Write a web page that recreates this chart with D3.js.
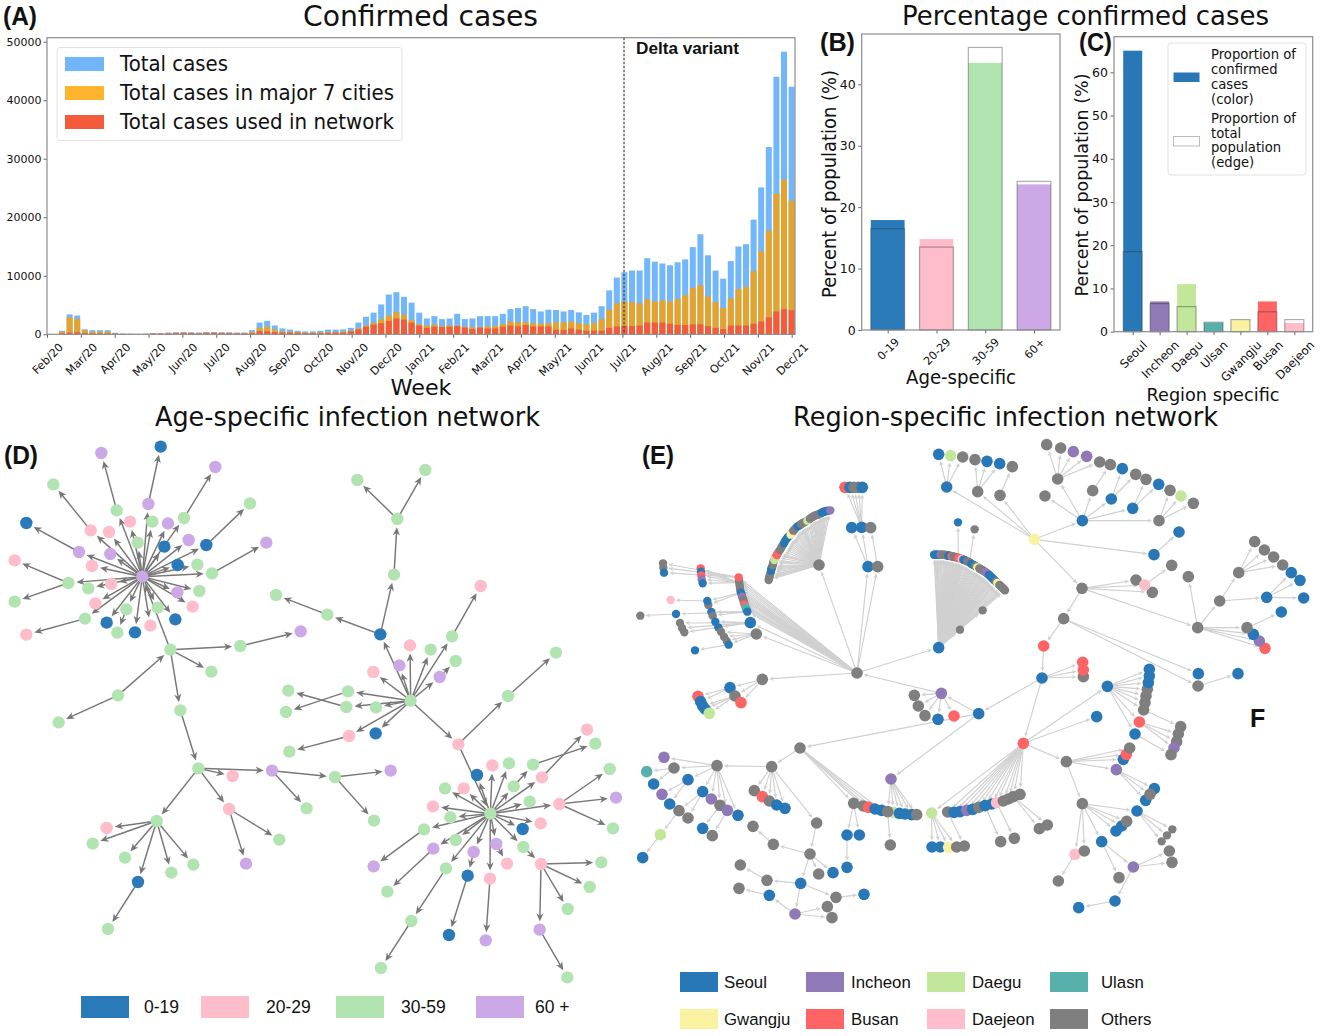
<!DOCTYPE html>
<html><head><meta charset="utf-8">
<script src="https://cdn.jsdelivr.net/npm/d3@7/dist/d3.min.js"></script>
<style>html,body{margin:0;padding:0;background:#fff}svg{display:block}text{fill:#111}</style>
</head><body><svg id="c" width="1325" height="1036"></svg>
<script>
// ---------- Panel A data (weekly counts) ----------
const monthLabels = ["Feb/20","Mar/20","Apr/20","May/20","Jun/20","Jul/20","Aug/20","Sep/20","Oct/20","Nov/20","Dec/20","Jan/21","Feb/21","Mar/21","Apr/21","May/21","Jun/21","Jul/21","Aug/21","Sep/21","Oct/21","Nov/21","Dec/21"];
const totalCases = [600,3400,3200,850,700,700,700,250,120,100,80,100,200,200,300,350,400,350,300,400,400,350,350,300,300,700,2000,2300,1500,1000,800,600,500,500,600,800,800,850,1100,2000,3000,3700,5100,6800,7200,6400,5400,3700,2700,3100,2600,2700,3500,2600,2700,3100,3100,3100,3500,4300,4500,4800,4300,3900,4200,4150,3900,4150,3750,3300,3700,4800,7500,9700,10600,10900,10900,13000,12400,12100,11800,12300,12800,14900,17100,13500,10900,9500,12500,15000,15400,19600,25100,32000,44000,48300,42300];
const majorCases = [450,2900,2600,700,450,450,450,150,80,70,50,70,150,150,200,250,300,250,200,300,300,250,250,200,200,400,1100,1300,850,500,450,400,300,300,300,400,400,450,600,1000,1500,2000,2600,3200,3800,3300,2400,1700,1500,1650,1400,1500,1500,1300,1200,1200,1350,1400,1750,2200,2100,2100,1900,1800,1900,2050,2050,2150,1900,1700,1900,2600,4200,5300,5600,5500,5300,6000,5600,5800,5600,6000,6700,7900,8400,6500,5500,4500,6100,7700,8100,10800,14200,17700,24000,26400,22800];
const networkCases = [150,300,350,200,150,150,150,100,50,40,30,40,100,100,150,200,200,200,150,200,200,200,200,150,150,200,550,500,400,300,300,250,200,200,200,250,300,300,500,850,1300,1650,1900,2300,2700,2500,2000,1500,1100,1300,1250,1300,1400,1150,900,1150,1000,1000,1300,1500,1350,1600,1350,1350,1350,800,750,1000,800,600,650,600,1100,1350,1400,1400,1500,2000,2000,2000,1800,1600,1600,1700,1700,1400,1100,900,1500,1500,1500,1800,2200,2900,3900,4300,4100];
const caseTicks = [0,10000,20000,30000,40000,50000];
const caseLegend = ["Total cases","Total cases in major 7 cities","Total cases used in network"];
const deltaStartWeek = 73.95;

// ---------- Panels B, C data ----------
const ageGroups = ["0-19","20-29","30-59","60+"];
const ageConfirmed = [17.9,14.8,43.5,23.7];
const agePopulation = [16.5,13.5,46,24.2];
const regions = ["Seoul","Incheon","Daegu","Ulsan","Gwangju","Busan","Daejeon"];
const regionConfirmed = [65,7,11,2.1,2.8,7,2];
const regionPopulation = [18.5,6.5,5.8,2.2,2.8,4.6,2.8];

// ---------- Colours by category ----------
const ageColor = {B:"#2a7aba",K:"#ffbccb",G:"#b2e4b2",P:"#cca8e6"};
const regionColor = {S:"#2878b8",I:"#8f79b6",D:"#c3e79a",U:"#58b0ac",W:"#f9f2a1",R:"#ff6464",J:"#ffbccb",O:"#7f7f7f"};

const ageCrops = {
 a:{o:[0,430],nodes:[
 [354,796,"G",null,"r0"],[176,877,"G","r0"],[511,659,"G","r0","m"],[427,440,"P","m","h1"],[721,648,"G","m","m2"],[902,604,"P","m2"],[634,725,"G","m"],[541,841,"G","m","m3"],
 [350,241,"G","h1","c1"],[304,69,"P","c1"],[445,222,"P","h1","c2"],[482,50,"B","c2"],[552,264,"G","h1","c3"],[646,111,"P","c3"],[272,301,"K","h1","c4"],[160,163,"G","c4"],[619,345,"B","h1","c5"],[750,220,"G","c5"],[237,366,"P","h1","c6"],[79,279,"B","c6"],[636,430,"G","h1","c7"],[799,338,"P","c7"],[205,459,"G","h1","c8"],[44,391,"K","c8"],[44,515,"G","c8"],[255,566,"G","h1","c9"],[79,614,"K","c9"],
 [390,275,"K","h1"],[457,275,"G","h1"],[504,280,"P","h1"],[327,306,"K","h1"],[413,338,"G","h1"],[493,350,"B","h1"],[566,330,"P","h1"],[331,372,"P","h1"],[276,408,"K","h1"],[533,405,"B","h1"],[592,404,"G","h1"],[265,475,"G","h1"],[334,462,"K","h1"],[532,487,"P","h1"],[598,483,"G","h1"],[578,530,"K","h1"],[286,520,"K","h1"],[379,538,"G","h1","c10"],[352,608,"G","c10"],[473,533,"G","h1"],[526,568,"B","h1"],[320,578,"B","h1"],[405,607,"B","h1"],[451,587,"K","h1"]]},
 b:{o:[270,450],nodes:[
 [422,752,"G",null,"h2"],[331,553,"B","h2","u1"],[372,374,"G","u1","u2"],[382,207,"G","u2","u3"],[262,90,"G","u3"],[466,60,"G","u3"],[172,494,"G","u1","u4"],[18,435,"G","u4"],
 [388,646,"P","h2"],[420,586,"K","h2"],[482,599,"G","h2"],[546,559,"G","h2","u5"],[632,408,"K","u5"],[509,681,"P","h2","u6"],[557,633,"G","u6"],[310,666,"K","h2"],[234,724,"G","h2","u7"],[48,786,"G","u7"],[229,771,"G","h2","u8"],[55,722,"G","u8"],[318,772,"G","h2"],[237,858,"K","h2","u9"],[58,905,"G","u9"],[317,850,"B","h2"],[565,883,"K","h2","k"],[714,738,"G","k","u10"],[858,608,"G","u10"]]},
 c:{o:[340,700],nodes:[
 [451,341,"G","k","h3"],[411,225,"B","h3"],[457,196,"K","h3"],[507,190,"G","h3"],[521,259,"G","h3","v1"],[579,194,"G","v1","v2"],[766,131,"G","v2"],[606,232,"K","h3","v3"],[741,89,"K","v3"],[569,305,"G","h3"],[658,312,"K","h3","v4"],[809,207,"G","v4"],[828,293,"P","v4"],[819,385,"G","v4"],[602,370,"K","h3"],[548,387,"B","h3"],[550,441,"G","h3","v5"],[603,492,"K","v5","v6"],[784,487,"G","v6"],[749,561,"G","v6"],[683,627,"G","v6"],[599,689,"P","v6","v7"],[682,832,"G","v7"],[469,432,"P","h3","v8"],[501,491,"K","v8"],[401,456,"P","h3","v9"],[383,527,"B","v9","v10"],[327,705,"B","v10"],[450,536,"K","h3","v11"],[437,721,"P","v11"],[315,265,"G","h3"],[371,265,"K","h3"],[279,319,"K","h3"],[331,352,"G","h3"],[252,388,"G","h3","v12"],[101,499,"P","v12"],[347,420,"G","h3"],[280,446,"P","h3","v13"],[142,575,"G","v13"],[318,505,"G","h3","v14"],[214,663,"G","v14","v15"],[123,804,"G","v15"]]},
 d:{o:[0,700],nodes:[
 [595,205,"G","m3","n1"],[698,228,"K","n1"],[816,212,"P","n1","n2"],[687,327,"K","n1","n3"],[470,363,"G","n1","n4"],[1005,231,"G","n2","n5"],[920,325,"G","n2"],[1172,212,"P","n5"],[1122,362,"G","n5"],[838,419,"G","n3"],[738,491,"P","n3"],[320,384,"K","n4"],[278,431,"G","n4"],[375,473,"G","n4"],[514,518,"G","n4"],[580,494,"G","n4"],[414,546,"B","n4","n6"],[324,687,"G","n6"]]}
};

// ---------- Panel E network: [x, y, category, parent id, id, minor flag] ----------
const regionCrops = {
 a:{o:[630,440],nodes:[
 [681,699,"O","i1","R"],[934,760,"I","s1","i1"],[1046,821,"S","s0","s1"],[853,766,"O","i1"],[865,798,"O","i1"],[885,827,"O","i1"],[924,838,"S","i1"],[972,828,"R","i1"],
 [397,718,"O","R","q1"],[300,743,"S","q1","q2"],[315,768,"O","q1","q3"],[333,788,"R","q1"],[204,769,"R","q2"],[212,785,"S","q2"],[218,798,"S","q3"],[225,807,"S","q3"],[238,820,"D","q3"],
 [567,375,"O","R","ma"],
 [417,416,"O","ma",null,1],[419,408,"O","ma",null,1],[422,398,"O","ma",null,1],[424,388,"S","ma",null,1],[427,380,"O","ma",null,1],[431,364,"O","ma",null,1],[437,352,"R","ma",null,1],[443,341,"O","ma",null,1],[454,323,"O","ma",null,1],[469,298,"S","ma",null,1],[478,288,"O","ma",null,1],[486,278,"O","ma",null,1],[494,268,"O","ma",null,1],[511,254,"O","ma",null,1],[517,250,"O","ma",null,1],[526,245,"O","ma",null,1],[536,239,"O","ma",null,1],[549,230,"O","ma",null,1],[556,226,"O","ma",null,1],[564,224,"O","ma",null,1],[572,220,"S","ma",null,1],[579,216,"S","ma",null,1],[586,214,"S","ma",null,1],[595,212,"S","ma",null,1],
 [416,420,"O","ma",null,1],[418,412,"O","ma",null,1],[420,405,"O","ma",null,1],[423,392,"S","ma",null,1],[425,384,"S","ma",null,1],[428,376,"O","ma",null,1],[430,368,"O","ma",null,1],[433,360,"D","ma",null,1],[440,345,"R","ma",null,1],[445,337,"R","ma",null,1],[450,330,"O","ma",null,1],[458,316,"O","ma",null,1],[462,310,"S","ma",null,1],[465,303,"S","ma",null,1],[473,292,"S","ma",null,1],[482,284,"W","ma",null,1],[490,272,"O","ma",null,1],[498,263,"O","ma",null,1],[503,259,"S","ma",null,1],[508,256,"S","ma",null,1],[514,252,"O","ma",null,1],[520,248,"O","ma",null,1],[532,242,"D","ma",null,1],[540,236,"O","ma",null,1],[545,232,"O","ma",null,1],[552,228,"O","ma",null,1],[560,225,"O","ma",null,1],[568,222,"O","ma",null,1],[575,218,"S","ma",null,1],[582,215,"S","ma",null,1],[590,213,"S","ma",null,1],[601,211,"I","ma",null,1],
 [714,380,"S","R","p1"],[743,380,"O","R","p2"],[665,263,"S","p1"],[695,262,"S","p1","p3"],[722,263,"O","p2"],[645,142,"R","p3"],[660,142,"S","p3"],[672,142,"O","p3"],[685,142,"O","p3"],[697,142,"S","p3"],
 [99,370,"O","L1",null,1],[100,383,"O","L1",null,1],[102,398,"S","L1",null,1],[212,385,"R","L2",null,1],[213,395,"S","L2",null,1],[214,406,"R","L2",null,1],[215,418,"I","L2",null,1],[218,430,"S","L2",null,1],
 [122,480,"J","L5",null,1],[235,495,"O","L3",null,1],[232,483,"S","L3","L5",1],[31,527,"O","L6",null,1],[138,522,"S","L8","L6",1],[244,516,"S","L8",null,1],[248,527,"O","L8",null,1],[150,549,"O","L9",null,1],[156,564,"O","L9",null,1],[163,577,"O","L9",null,1],[256,545,"S","L9",null,1],[265,562,"S","L9",null,1],[273,575,"O","L10",null,1],[282,590,"O","L10",null,1],[290,603,"O","L10",null,1],[296,614,"S","L10","L11",1],[195,631,"S","L11",null,1],
 [327,420,"O","R",null,1],[329,436,"O","R",null,1],[331,452,"O","R",null,1],[335,464,"S","R",null,1],[338,475,"O","R",null,1],[342,487,"O","R",null,1],[345,497,"U","R",null,1],[349,508,"S","R",null,1],
 [328,428,"O","R","L2",1],[326,412,"R","R","L1",1],[330,445,"O","R",null,1],[333,458,"S","R","L3",1],[336,470,"I","R",null,1],[340,480,"O","R",null,1],[343,493,"R","R",null,1],[347,502,"U","R",null,1],[352,515,"S","R","L8",1],[361,548,"S","R","L9"],[379,582,"O","R","L10"],
 [926,623,"S","R","fr"],[990,569,"O","fr",null,1],[1058,511,"O","fr",null,1],[984,247,"S","ax1",null,1],[1034,268,"O","ax2",null,1],
 [915,344,"S","fr",null,1],[922,344,"S","fr",null,1],[928,344,"I","fr",null,1],[935,344,"O","fr",null,1],[942,344,"O","fr",null,1],[948,345,"O","fr",null,1],[953,346,"S","fr",null,1],[958,347,"S","fr",null,1],[963,348,"R","fr",null,1],[968,349,"O","fr",null,1],[973,350,"O","fr",null,1],[978,352,"O","fr",null,1],[983,353,"R","fr",null,1],[988,354,"R","fr",null,1],[993,356,"J","fr",null,1],[998,358,"S","fr",null,1],[1003,360,"S","fr",null,1],[1008,362,"O","fr",null,1],[1015,365,"O","fr",null,1],[1021,369,"O","fr",null,1],[1027,373,"S","fr",null,1],[1033,376,"S","fr",null,1],[1039,380,"O","fr",null,1],[1045,383,"O","fr",null,1],[1051,387,"O","fr",null,1],[1057,390,"O","fr",null,1],[1063,394,"O","fr",null,1],[1069,398,"I","fr",null,1],[1074,402,"S","fr",null,1],[1080,407,"S","fr",null,1],[1085,412,"S","fr",null,1],[1090,417,"S","fr",null,1],[1095,422,"O","fr",null,1],[1100,427,"O","fr",null,1],[1105,432,"O","fr",null,1],[1112,438,"O","fr",null,1],[1118,444,"O","fr",null,1],[1122,448,"O","fr",null,1],
 [912,344,"S","fr",null,1],[918,344,"S","fr",null,1],[925,344,"S","fr",null,1],[932,344,"I","fr",null,1],[938,344,"O","fr",null,1],[945,345,"O","fr",null,1],[950,346,"O","fr",null,1],[955,347,"S","fr",null,1],[960,348,"S","fr",null,1],[965,349,"R","fr",null,1],[970,350,"O","fr",null,1],[975,351,"O","fr",null,1],[980,352,"O","fr",null,1],[985,354,"R","fr","ax1",1],[990,355,"R","fr",null,1],[995,357,"J","fr",null,1],[1000,359,"S","fr",null,1],[1005,361,"S","fr",null,1],[1012,364,"O","fr",null,1],[1018,367,"O","fr","ax2",1],[1024,371,"S","fr",null,1],[1030,375,"S","fr",null,1],[1036,378,"O","fr",null,1],[1042,382,"W","fr",null,1],[1048,385,"O","fr",null,1],[1053,388,"O","fr",null,1],[1060,392,"O","fr",null,1],[1066,396,"I","fr",null,1],[1071,400,"I","fr",null,1],[1077,405,"S","fr",null,1],[1082,410,"S","fr",null,1],[1087,415,"S","fr",null,1],[1092,420,"S","fr",null,1],[1098,425,"O","fr",null,1],[1102,429,"W","fr",null,1],[1108,435,"O","fr",null,1],[1115,441,"O","fr",null,1],[1120,446,"O","fr",null,1],[1125,451,"O","fr",null,1],
 [950,141,"S","Y","t1"],[926,43,"S","t1"],[962,47,"D","t1"],[998,51,"O","t1"],[1043,155,"O","Y","t2"],[1035,59,"O","t2"],[1071,64,"S","t2"],[1109,71,"S","t2"],[1110,166,"O","Y","t3"],[1147,80,"O","t3"]]},
 b:{o:[1000,430],nodes:[
 [103,328,"W",null,"Y"],[247,272,"S","Y","e1"],[462,374,"S","Y","e2"],[537,306,"S","e2"],[246,475,"O","Y","e3"],[191,566,"O","e3","e4"],[408,450,"O","e3"],[457,487,"O","e3"],[434,465,"J","e3","e5"],[515,406,"O","e5"],[593,593,"O","e3","e6"],
 [131,648,"R","e4","e7"],[595,731,"S","e4"],[594,768,"O","e4","e8"],[714,731,"S","e8"],[126,744,"S","e7","s0"],[250,740,"O","s0"],[248,697,"R","s0"],[250,720,"R","s0"],
 [135,198,"O","e1"],[173,147,"O","e1","f1"],[278,182,"O","e1","f2"],[334,207,"S","e1","f3"],[398,235,"S","e1","f4"],[477,272,"O","e1","f5"],[140,44,"O","f1"],[182,54,"O","f1"],[220,65,"I","f1"],[260,79,"I","f1"],[299,96,"O","f1"],[331,104,"O","f2"],[367,116,"S","f3"],[407,133,"O","f3"],[438,148,"O","f4"],[476,163,"S","f4"],[510,181,"O","f5"],[543,198,"D","f5"],[580,220,"O","f5"],
 [565,440,"O","e6"],[659,513,"O","e6","g1"],[795,655,"R","e6"],[778,633,"I","e6"],[760,613,"S","e6"],[741,593,"O","e6","g2"],[844,546,"S","g2"],[716,428,"O","g1","g3"],[800,502,"S","g1","g4"],[764,335,"O","g3"],[793,360,"O","g3"],[821,381,"O","g3"],[848,405,"O","g3"],[874,428,"S","g4"],[900,451,"S","g4"],[911,504,"S","g4"]]},
 c:{o:[630,700],nodes:[
 [510,144,"O","s1","w"],[425,200,"O","w","w1"],[261,197,"O","w1","w2"],[373,272,"O","w1"],[397,290,"R","w1"],[418,303,"O","w1"],[440,315,"S","w1"],[465,325,"S","w1"],[560,369,"O","w1","w3"],[540,462,"O","w3","w4"],[430,433,"O","w4","w5"],[369,379,"O","w5"],[566,522,"O","w4"],[609,518,"S","w4"],[512,550,"S","w4","w6"],[411,541,"O","w6","w7"],[331,495,"O","w7"],[618,592,"O","w6","w8"],[702,583,"S","w8"],[495,642,"I","w6","w9"],[418,586,"S","w9","w10"],[327,565,"O","w10"],[592,620,"O","w9"],[606,653,"O","w9"],
 [102,172,"I","w2"],[132,204,"O","w2","y1"],[50,215,"U","y1"],[71,252,"S","y1"],[174,239,"S","w2","y2"],[96,283,"I","y2"],[119,312,"S","y2"],[218,275,"S","w2","y3"],[174,354,"O","y3"],[147,332,"O","y3","y4"],[91,404,"D","y4","y5"],[38,473,"S","y5"],[244,297,"I","w2"],[270,316,"O","w2","y6"],[218,385,"S","y6"],[292,331,"I","w2","y7"],[247,407,"O","y7"],[324,346,"S","w2"],
 [671,310,"O","w","x1"],[651,405,"S","x1","x2"],[688,405,"S","x1"],[651,502,"S","x2"],[700,318,"O","w"],[715,322,"R","w"],[735,327,"S","w"],[755,331,"S","w"],[783,237,"I","s1","x3"],[790,337,"D","x3"],[773,335,"O","x3","x4"],[781,435,"O","x4"],[808,340,"S","x3"],[825,342,"S","x3"],[845,344,"S","x3"],[860,344,"O","x3"]]},
 d:{o:[900,660],nodes:[
 [370,250,"R","s0","z"],[590,170,"S","z"],[95,459,"D","z","z1"],[96,561,"S","z1"],[121,561,"S","z1"],[146,562,"W","z1"],[170,561,"O","z1"],[193,558,"O","a1"],
 [302,545,"O","a2"],[343,535,"O","a3"],[418,506,"O","a4"],[442,495,"O","a4"],
 [143,456,"O","z","a1"],[162,457,"S","z"],[180,455,"S","z"],[200,451,"I","z"],[218,448,"S","z"],[236,442,"O","z"],[255,437,"S","z","a2"],[275,432,"S","z"],[290,428,"J","z","a3"],[360,403,"O","z"],[340,410,"O","z","a4"],[325,417,"O","z"],[310,423,"O","z"],
 [622,79,"S","z","b1"],[731,150,"O","b1","b3"],[735,128,"O","b1"],[738,108,"O","b1"],[742,88,"O","b1"],[745,68,"S","b1"],[748,48,"S","b1"],[748,28,"S","b1"],[718,186,"R","b1","b2"],[705,222,"S","b1","b4"],
 [842,200,"O","b3"],[835,222,"O","b2"],[830,245,"O","b2"],[822,264,"I","b2"],[813,284,"O","b4"],
 [499,305,"O","z","d1"],[670,298,"S","d1"],[679,283,"R","d1"],[689,264,"O","d1"],[649,329,"I","d1","d2"],[737,421,"S","d2"],[763,386,"S","d2"],[750,403,"O","d2"],
 [547,431,"O","d1","d3"],[711,453,"S","d3","d4"],[648,513,"S","d3"],[665,498,"S","d3"],[680,484,"O","d3"],[605,545,"S","d3","d5"],[525,583,"J","d3","d6"],[553,573,"O","d3"],[475,663,"O","d6"],
 [817,508,"O","d4",null,1],[801,526,"O","d4",null,1],[785,544,"O","d4",null,1],[700,621,"I","d5","d7"],[657,653,"O","d5"],[808,573,"O","d7"],[816,607,"O","d7"],[645,723,"S","d7","d8"],[536,743,"S","d8"]]}
};

const ageLegend = [["0-19","B"],["20-29","K"],["30-59","G"],["60 +","P"]];
const regionLegend = [["Seoul","S"],["Incheon","I"],["Daegu","D"],["Ulasn","U"],["Gwangju","W"],["Busan","R"],["Daejeon","J"],["Others","O"]];

// ---------- helpers ----------
const svg = d3.select("#c");
const DV = "'DejaVu Sans'", LS = "'Liberation Sans'";
function label(x,y,t,o={}){
  const e = svg.append("text").attr("x",x).attr("y",y).text(t)
    .attr("font-family",o.font||DV).attr("font-size",o.size||14)
    .attr("font-weight",o.weight||"normal").attr("text-anchor",o.anchor||"start");
  if(o.len) e.attr("textLength",o.len).attr("lengthAdjust","spacingAndGlyphs");
  if(o.rot) e.attr("transform",`rotate(${o.rot} ${x} ${y})`);
  return e;
}
function styleAxis(g,size){
  g.select(".domain").remove();
  g.selectAll("line").attr("stroke","#555").attr("stroke-width",.9);
  g.selectAll("text").attr("font-family",DV).attr("font-size",size).attr("fill","#222");
}
// rotated tick labels, centred on tick with the bounding box top at a fixed distance
function rotateTicks(g,pad,size){
  g.selectAll("text").each(function(){
    const l=this.getComputedTextLength();
    const d=(l+size*1.1)*Math.SQRT1_2/2;
    d3.select(this).attr("text-anchor","middle").attr("dy",0).attr("y",0)
      .attr("transform",`translate(0,${pad+d}) rotate(-45) translate(0,${size*.36})`);
  });
}
function frame(x0,x1,y0,y1){
  svg.append("rect").attr("x",x0).attr("y",y0).attr("width",x1-x0).attr("height",y1-y0)
    .attr("fill","none").attr("stroke","#8c8c8c").attr("stroke-width",1.2);
}

// ---------- Panel A ----------
(function(){
  const x0=47,x1=795,yB=334.3,yT=37.7;
  const x=d3.scaleLinear().domain([0,96]).range([62,791.6]);
  const y=d3.scaleLinear().domain([0,50000]).range([yB,41.7]);
  const tick=d3.scalePoint().domain(monthLabels).range([47,791.7]);
  const series=[[totalCases,"#72b6fb"],[majorCases,"#e4a42c"],[networkCases,"#f35b3a"]];
  series.forEach(([vals,col])=>{
    svg.append("g").selectAll("rect").data(vals).join("rect")
      .attr("x",(d,i)=>x(i)-3).attr("width",6)
      .attr("y",d=>y(d)).attr("height",d=>yB-y(d)).attr("fill",col);
  });
  const ax=svg.append("g").attr("transform",`translate(0,${yB})`).call(d3.axisBottom(tick).tickSize(3.5));
  styleAxis(ax,11.2); rotateTicks(ax,6.5,11.2);
  const ay=svg.append("g").attr("transform",`translate(${x0},0)`).call(d3.axisLeft(y).tickValues(caseTicks).tickFormat(d3.format("d")).tickSize(3.5).tickPadding(2));
  styleAxis(ay,11);
  frame(x0,x1,yT,yB);
  const dx=x(deltaStartWeek);
  svg.append("line").attr("x1",dx).attr("x2",dx).attr("y1",yT).attr("y2",yB).attr("stroke","#444").attr("stroke-width",1.2).attr("stroke-dasharray","2.5,1.5");
  label(636,54,"Delta variant",{font:LS,weight:"bold",size:16.5,len:103});
  svg.append("rect").attr("x",57).attr("y",47.5).attr("width",345).attr("height",93).attr("rx",3).attr("fill","#fff").attr("stroke","#e2e2e2");
  const legCol=["#72b6fb","#ffb42e","#f35b3a"];
  caseLegend.forEach((t,i)=>{
    const yy=57+i*29;
    svg.append("rect").attr("x",65).attr("y",yy).attr("width",39).attr("height",14).attr("fill",legCol[i]);
    label(120,yy+14,t,{size:20.5,len:[108,274,274][i]});
  });
  label(303,26,"Confirmed cases",{size:28,len:235});
  label(421,395,"Week",{size:22,anchor:"middle",len:61});
  label(3,25,"(A)",{font:LS,weight:"bold",size:25,len:34});
})();

// ---------- Panel B, C shared ----------
function pctBars(o){
  const x=d3.scalePoint().domain(o.cats).range(o.xr);
  const y=d3.scaleLinear().domain([0,o.dmax]).range([o.yB,o.yTop]);
  svg.append("g").selectAll("rect").data(o.conf).join("rect")
    .attr("x",(d,i)=>x(o.cats[i])-o.w/2).attr("width",o.w)
    .attr("y",d=>y(d)).attr("height",d=>o.yB-y(d)).attr("fill",(d,i)=>o.cols[i]);
  svg.append("g").selectAll("rect").data(o.pop).join("rect")
    .attr("x",(d,i)=>x(o.cats[i])-o.w/2).attr("width",o.w)
    .attr("y",d=>y(d)).attr("height",d=>o.yB-y(d)).attr("fill","none")
    .attr("stroke","rgba(50,50,50,.4)").attr("stroke-width",1.2);
  const ax=svg.append("g").attr("transform",`translate(0,${o.yB})`).call(d3.axisBottom(x).tickSize(3.5));
  styleAxis(ax,o.fx); rotateTicks(ax,o.pad,o.fx);
  const ay=svg.append("g").attr("transform",`translate(${o.x0},0)`).call(d3.axisLeft(y).tickValues(o.ticks).tickSize(3.5).tickPadding(2.5));
  styleAxis(ay,o.fs);
  frame(o.x0,o.x1,o.yT,o.yB);
}
pctBars({cats:ageGroups,conf:ageConfirmed,pop:agePopulation,xr:[887.7,1034],w:33.8,yB:330,yTop:84.3,dmax:40,x0:861.7,x1:1060,yT:34,ticks:[0,10,20,30,40],fs:12.5,fx:11.2,pad:5.5,
  cols:[ageColor.B,ageColor.K,ageColor.G,ageColor.P]});
pctBars({cats:regions,conf:regionConfirmed,pop:regionPopulation,xr:[1132.7,1294.3],w:19,yB:331.7,yTop:72.3,dmax:60,x0:1114,x1:1312.7,yT:36.7,ticks:[0,10,20,30,40,50,60],fs:12.5,fx:11.8,pad:6.5,
  cols:["S","I","D","U","W","R","J"].map(k=>regionColor[k])});
label(902,25,"Percentage confirmed cases",{size:27,len:367});
label(820,51,"(B)",{font:LS,weight:"bold",size:25,len:35});
label(1079,51,"(C)",{font:LS,weight:"bold",size:25,len:33});
label(836,184,"Percent of population (%)",{size:19.5,anchor:"middle",rot:-90,len:228});
label(1088,185,"Percent of population (%)",{size:18.5,anchor:"middle",rot:-90,len:223});
label(961,384,"Age-specific",{size:19.5,anchor:"middle",len:110});
label(1213,400.5,"Region specific",{size:17.5,anchor:"middle",len:133});
// panel C legend
svg.append("rect").attr("x",1168).attr("y",43).attr("width",138).attr("height",132).attr("rx",3).attr("fill","#fff").attr("stroke","#e2e2e2");
svg.append("rect").attr("x",1173.5).attr("y",72.5).attr("width",26).attr("height",9.5).attr("fill",regionColor.S);
svg.append("rect").attr("x",1173.5).attr("y",136.5).attr("width",26).attr("height",9.5).attr("fill","#fff").attr("stroke","#bbb");
const cLegendLines=["Proportion of","confirmed","cases","(color)","Proportion of","total","population","(edge)"];
const cLegendY=[59,74,88.5,103.5,122.5,137.5,152,167];
cLegendLines.forEach((t,i)=>label(1211,cLegendY[i],t,{size:13.2}));

// ---------- Networks ----------
function network(crops,colors,st){
  const nodes=[],byId={};
  Object.values(crops).forEach(c=>{
    const sx=d3.scaleLinear().domain([0,3]).range([c.o[0],c.o[0]+1]);
    const sy=d3.scaleLinear().domain([0,3]).range([c.o[1],c.o[1]+1]);
    c.nodes.forEach(n=>{
      const d={x:sx(n[0]),y:sy(n[1]),cat:n[2],parent:n[3],id:n[4],minor:n[5]};
      nodes.push(d); if(d.id) byId[d.id]=d;
    });
  });
  const rad=d=>d.minor?st.rMinor:st.r;
  const links=nodes.filter(d=>d.parent&&byId[d.parent]).map(d=>({s:byId[d.parent],t:d}));
  const g=svg.append("g");
  const gL=g.append("g"),gH=g.append("g");
  links.forEach(l=>{
    const dx=l.t.x-l.s.x,dy=l.t.y-l.s.y,L=Math.hypot(dx,dy)||1,ux=dx/L,uy=dy/L;
    const tip=rad(l.t)+st.gap;
    const tx=l.t.x-ux*tip,ty=l.t.y-uy*tip;
    const bx=tx-ux*st.ah,by=ty-uy*st.ah, nx=-uy*st.aw,ny=ux*st.aw;
    gL.append("line").attr("x1",l.s.x).attr("y1",l.s.y).attr("x2",bx+ux*st.ah*.4).attr("y2",by+uy*st.ah*.4)
      .attr("stroke",st.line).attr("stroke-width",st.lw);
    gH.append("path").attr("d",`M${tx},${ty}L${bx+nx},${by+ny}L${bx+ux*st.ah*.3},${by+uy*st.ah*.3}L${bx-nx},${by-ny}Z`).attr("fill",st.line);
  });
  g.append("g").selectAll("circle").data(nodes).join("circle")
    .attr("cx",d=>d.x).attr("cy",d=>d.y).attr("r",rad).attr("fill",d=>colors[d.cat]);
}
network(ageCrops,ageColor,{r:6.2,rMinor:6.2,gap:2,ah:8.2,aw:3.6,line:"#777",lw:1.45});
network(regionCrops,regionColor,{r:5.8,rMinor:4.2,gap:1,ah:4.8,aw:2.2,line:"#d0d0d0",lw:1.15});

label(155,426,"Age-specific infection network",{size:27,len:385});
label(793,426,"Region-specific infection network",{size:27,len:425});
label(4,464,"(D)",{font:LS,weight:"bold",size:25,len:34});
label(642,464,"(E)",{font:LS,weight:"bold",size:25,len:32});
label(1250,727,"F",{font:LS,weight:"bold",size:25});

// legends
const ageLegX=[81,201,336,476], ageLegTx=[144,266,401,535];
ageLegend.forEach(([t,k],i)=>{
  svg.append("rect").attr("x",ageLegX[i]).attr("y",996).attr("width",48).attr("height",22).attr("fill",ageColor[k]);
  label(ageLegTx[i],1013,t,{font:LS,size:17.5});
});
const regLegX=[680,806,927,1050], regLegTx=[724,851,972,1101];
regionLegend.forEach(([t,k],i)=>{
  const c=i%4,r=i>>2;
  svg.append("rect").attr("x",regLegX[c]).attr("y",r?1009:972).attr("width",38).attr("height",20).attr("fill",regionColor[k]);
  label(regLegTx[c],r?1025:988,t,{font:LS,size:16.8});
});
</script></body></html>
